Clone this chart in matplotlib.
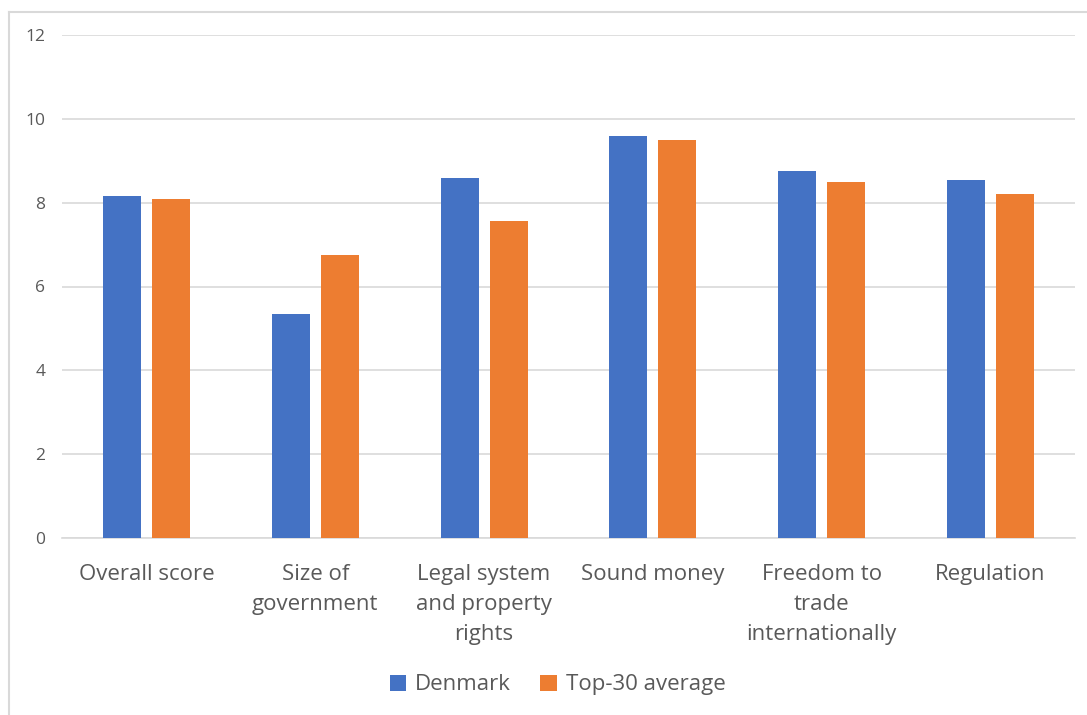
import numpy as np
import matplotlib
matplotlib.use("Agg")
from matplotlib import pyplot as plt
from matplotlib.lines import Line2D

categories = ["Overall score", "Size of\ngovernment", "Legal system\nand property\nrights",
              "Sound money", "Freedom to\ntrade\ninternationally", "Regulation"]
denmark = [8.16, 5.34, 8.59, 9.60, 8.76, 8.53]
top30 = [8.08, 6.76, 7.56, 9.50, 8.49, 8.21]

blue = "#4472C4"
orange = "#ED7D31"
grey_text = "#595959"
grid_col = "#D9D9D9"

plt.rcParams["font.family"] = ["Open Sans", "DejaVu Sans"]

fig = plt.figure(figsize=(10.87, 7.15), dpi=100)
ax = fig.add_axes([62 / 1087, 1 - 538 / 715, (1075 - 62) / 1087, (538 - 35) / 715])

x = np.arange(len(categories))
w = 0.225
off = 0.145
ax.bar(x - off, denmark, w, color=blue, label="Denmark", zorder=3)
ax.bar(x + off, top30, w, color=orange, label="Top-30 average", zorder=3)

ax.set_xlim(-0.5, len(categories) - 0.5)
ax.set_ylim(0, 12)
ax.set_yticks(range(0, 13, 2))
ax.yaxis.grid(True, color=grid_col, linewidth=1.2, zorder=0)
for s in ["top", "right", "left"]:
    ax.spines[s].set_visible(False)
ax.spines["bottom"].set_color(grid_col)
ax.spines["bottom"].set_linewidth(1.2)
ax.tick_params(axis="both", length=0, colors=grey_text)
ax.tick_params(axis="y", labelsize=12.5, pad=12)
ax.set_xticks(x)
ax.set_xticklabels(categories, fontsize=16, color=grey_text, linespacing=1.55)
ax.tick_params(axis="x", pad=19)

# chart border (left and top visible)
fig.add_artist(Line2D([9 / 1087, 9 / 1087], [0, 1 - 12 / 715], transform=fig.transFigure,
                      color=grid_col, linewidth=1.5))
fig.add_artist(Line2D([9 / 1087, 1], [1 - 12 / 715, 1 - 12 / 715], transform=fig.transFigure,
                      color=grid_col, linewidth=1.5))

leg = fig.legend(loc="center", bbox_to_anchor=(0.513, 0.042), ncol=2, frameon=False,
                 fontsize=16, handlelength=0.75, handleheight=0.75, handletextpad=0.4,
                 columnspacing=1.3)
for t in leg.get_texts():
    t.set_color(grey_text)

fig.savefig("out.png", dpi=100)
